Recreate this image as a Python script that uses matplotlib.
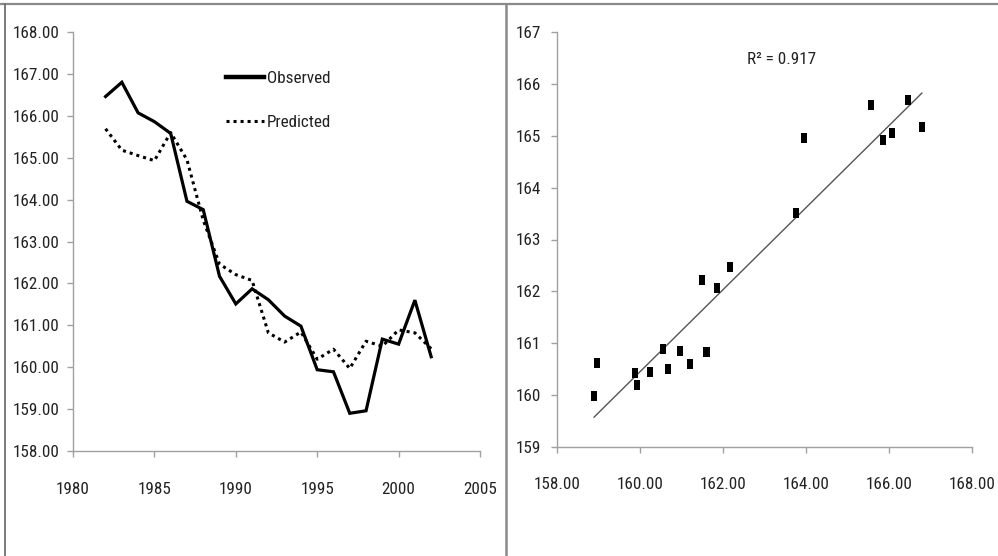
import numpy as np
import matplotlib
matplotlib.use("Agg")
import matplotlib.pyplot as plt
from matplotlib import font_manager
from matplotlib.lines import Line2D

# ---------------- data ----------------
years = list(range(1982, 2003))
observed = [166.46, 166.80, 166.07, 165.86, 165.58, 163.96, 163.76, 162.17,
            161.51, 161.87, 161.61, 161.22, 160.98, 159.94, 159.89, 158.90,
            158.96, 160.67, 160.55, 161.60, 160.25]
predicted = [165.69, 165.18, 165.05, 164.93, 165.60, 164.95, 163.51, 162.46,
             162.21, 162.07, 160.82, 160.60, 160.84, 160.19, 160.43, 159.97,
             160.62, 160.50, 160.89, 160.82, 160.44]
left_xticks = [1980, 1985, 1990, 1995, 2000, 2005]
left_yticks = [158, 159, 160, 161, 162, 163, 164, 165, 166, 167, 168]
right_xticks = [158, 160, 162, 164, 166, 168]
right_yticks = [159, 160, 161, 162, 163, 164, 165, 166, 167]
r2_label = "R² = 0.917"
legend_labels = ["Observed", "Predicted"]

# ---------------- fonts ----------------
names = {f.name for f in font_manager.fontManager.ttflist}
fam = "DejaVu Sans"
for cand in ["Liberation Sans Narrow", "Roboto Condensed", "Open Sans Condensed",
             "Liberation Sans"]:
    if cand in names:
        fam = cand
        break
plt.rcParams["font.family"] = [fam, "DejaVu Sans"]
FS = 12.3
TXT = "#222222"
AX = "#a0a0a0"

fig = plt.figure(figsize=(9.98, 5.56), dpi=100)
W, H = 998, 556


def axes_px(x0, y0, x1, y1):
    return fig.add_axes([x0 / W, 1 - y1 / H, (x1 - x0) / W, (y1 - y0) / H])


def style(ax):
    for s in ("top", "right"):
        ax.spines[s].set_visible(False)
    for s in ("left", "bottom"):
        ax.spines[s].set_color(AX)
        ax.spines[s].set_linewidth(1.0)
    ax.tick_params(axis="both", direction="out", length=4.5, width=1.0,
                   color=AX, labelcolor=TXT, labelsize=FS)


# ---------------- left: time series ----------------
axL = axes_px(73, 32, 480, 451)
style(axL)
axL.plot(years, observed, color="black", lw=2.3, solid_joinstyle="miter",
         label=legend_labels[0])
axL.plot(years, predicted, color="black", lw=2.2, linestyle=(0, (1, 1.3)),
         label=legend_labels[1])
axL.set_xlim(1980, 2005)
axL.set_ylim(158, 168)
axL.set_xticks(left_xticks)
axL.set_yticks(left_yticks)
axL.set_yticklabels([f"{v:.2f}" for v in left_yticks])
axL.tick_params(axis="x", pad=17.5)
axL.tick_params(axis="y", pad=5.4)
leg = axL.legend(loc="upper left", bbox_to_anchor=(0.36, 0.923), frameon=False,
                 fontsize=FS, handlelength=2.2, handletextpad=0.18,
                 labelspacing=1.7, borderaxespad=0)
for t in leg.get_texts():
    t.set_color(TXT)
leg.get_lines()[0].set_linewidth(3.2)

# ---------------- right: scatter ----------------
axR = axes_px(556.7, 32.3, 971.7, 446.7)
style(axR)
rect = [(-0.32, -0.5), (0.32, -0.5), (0.32, 0.5), (-0.32, 0.5), (-0.32, -0.5)]
axR.scatter(observed, predicted, marker=rect, s=62, color="black",
            linewidths=0, zorder=3)
obs = np.array(observed)
pred = np.array(predicted)
k, b = np.polyfit(obs, pred, 1)
xs = np.array([obs.min(), obs.max()])
axR.plot(xs, k * xs + b, color="#555555", lw=1.0, zorder=2)
axR.set_xlim(158, 168)
axR.set_ylim(159, 167)
axR.set_xticks(right_xticks)
axR.set_xticklabels([f"{v:.2f}" for v in right_xticks])
axR.set_yticks(right_yticks)
axR.set_yticklabels([f"{v:d}" for v in right_yticks])
axR.tick_params(axis="x", pad=17.5)
axR.tick_params(axis="y", pad=6.5)
axR.text(163.43, 166.47, r2_label, fontsize=FS, color=TXT, ha="center", va="center")

# ---------------- frame lines (image borders) ----------------
fig.add_artist(Line2D([0, 1], [1 - 4 / H, 1 - 4 / H], color="#8a8a8a", lw=1.6))
fig.add_artist(Line2D([5 / W, 5 / W], [0, 1 - 4 / H], color="#707070", lw=1.3))
fig.add_artist(Line2D([505.5 / W, 505.5 / W], [0, 1 - 4 / H], color="#8a8a8a", lw=1.8))

fig.savefig("out.png", dpi=100)
